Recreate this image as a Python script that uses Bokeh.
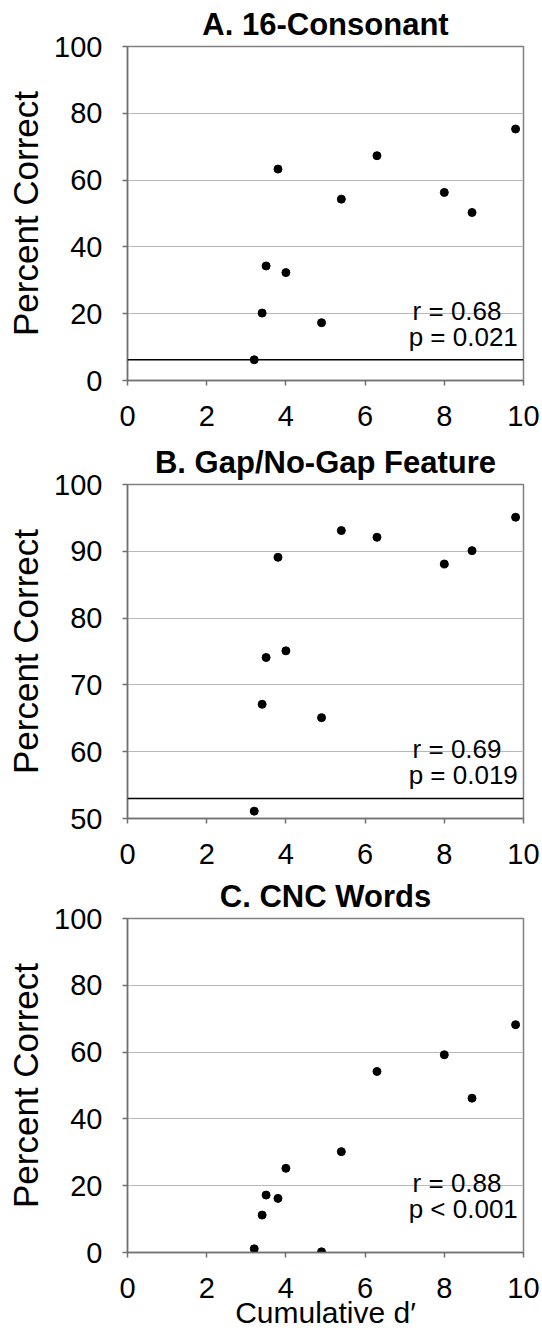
from bokeh.plotting import figure
from bokeh.layouts import column
from bokeh.models import Range1d, Span, Label, FixedTicker
from bokeh.embed import file_html
from bokeh.resources import INLINE

# ---- data ----
cum_dprime = [3.2, 3.4, 3.5, 3.8, 4.0, 4.9, 5.4, 6.3, 8.0, 8.7, 9.8]
consonant_pct = [6.2, 20.2, 34.3, 63.3, 32.3, 17.3, 54.3, 67.3, 56.3, 50.3, 75.3]
gap_pct = [51.1, 67.1, 74.1, 89.1, 75.1, 65.1, 93.1, 92.1, 88.1, 90.1, 95.1]
cnc_pct = [1.1, 11.2, 17.2, 16.2, 25.2, 0.2, 30.2, 54.2, 59.2, 46.2, 68.2]

titles = ["A. 16-Consonant", "B. Gap/No-Gap Feature", "C. CNC Words"]
r_texts = ["r = 0.68", "r = 0.69", "r = 0.88"]
p_texts = ["p = 0.021", "p = 0.019", "p < 0.001"]
chance_levels = [6.25, 53.0, None]
y_limits = [(0, 100), (50, 100), (0, 100)]
y_ticks = [[0, 20, 40, 60, 80, 100], [50, 60, 70, 80, 90, 100], [0, 20, 40, 60, 80, 100]]
x_ticks = [0, 2, 4, 6, 8, 10]
x_label = "Cumulative d\u2032"
y_label = "Percent Correct"

FONT = "Liberation Sans"
FRAME_H = 334
series = [consonant_pct, gap_pct, cnc_pct]
heights = [438, 434, 469]
bottoms = [58, 54, 89]

figs = []
for i in range(3):
    y0, y1 = y_limits[i]
    p = figure(width=542, height=heights[i], output_backend="svg", toolbar_location=None,
               x_range=Range1d(0, 10), y_range=Range1d(y0, y1),
               min_border_left=127, min_border_right=19, min_border_top=46,
               min_border_bottom=bottoms[i])
    p.title.text = titles[i]
    p.title.align = "center"
    p.title.vertical_align = "top"
    p.title.text_font = FONT
    p.title.text_font_size = "31px"
    p.title.text_font_style = "bold"
    p.title.text_color = "black"
    p.title.standoff = 5

    p.background_fill_color = "white"
    p.border_fill_color = "white"
    p.outline_line_color = "#808080"
    p.outline_line_width = 1.5

    p.xgrid.visible = False
    p.ygrid.grid_line_color = "#b8b8b8"
    p.ygrid.grid_line_width = 1.2

    p.xaxis.ticker = FixedTicker(ticks=x_ticks)
    p.yaxis.ticker = FixedTicker(ticks=y_ticks[i])
    for ax in (p.xaxis, p.yaxis):
        ax.axis_line_color = "#707070"
        ax.axis_line_width = 1.5
        ax.major_tick_line_color = "#707070"
        ax.major_tick_line_width = 1.5
        ax.major_tick_in = 0
        ax.major_tick_out = 5
        ax.minor_tick_line_color = None
        ax.major_label_text_font = FONT
        ax.major_label_text_font_size = "29px"
        ax.major_label_text_color = "black"
    p.xaxis.major_label_standoff = 20
    p.yaxis.major_label_standoff = 20
    p.yaxis.axis_label = y_label
    p.yaxis.axis_label_text_font = FONT
    p.yaxis.axis_label_text_font_size = "35px"
    p.yaxis.axis_label_text_font_style = "normal"
    p.yaxis.axis_label_text_color = "black"
    p.yaxis.axis_label_standoff = 6

    if i == 2:
        p.xaxis.axis_label = x_label
        p.xaxis.axis_label_text_font = FONT
        p.xaxis.axis_label_text_font_size = "30px"
        p.xaxis.axis_label_text_font_style = "normal"
        p.xaxis.axis_label_text_color = "black"
        p.xaxis.axis_label_standoff = -5

    if chance_levels[i] is not None:
        p.add_layout(Span(location=chance_levels[i], dimension="width",
                          line_color="black", line_width=1.5))

    p.scatter(cum_dprime, series[i], size=8, color="black")

    upp = (y1 - y0) / FRAME_H  # data units per pixel
    p.add_layout(Label(x=7.2, y=y0 + 70 * upp, text=r_texts[i], text_font=FONT,
                       text_font_size="26px", text_color="black",
                       text_baseline="alphabetic", text_align="left"))
    p.add_layout(Label(x=7.1, y=y0 + 44 * upp, text=p_texts[i], text_font=FONT,
                       text_font_size="26px", text_color="black",
                       text_baseline="alphabetic", text_align="left"))
    figs.append(p)

layout = column(*figs, spacing=0)
open("out.html", "w").write(file_html(layout, INLINE))
